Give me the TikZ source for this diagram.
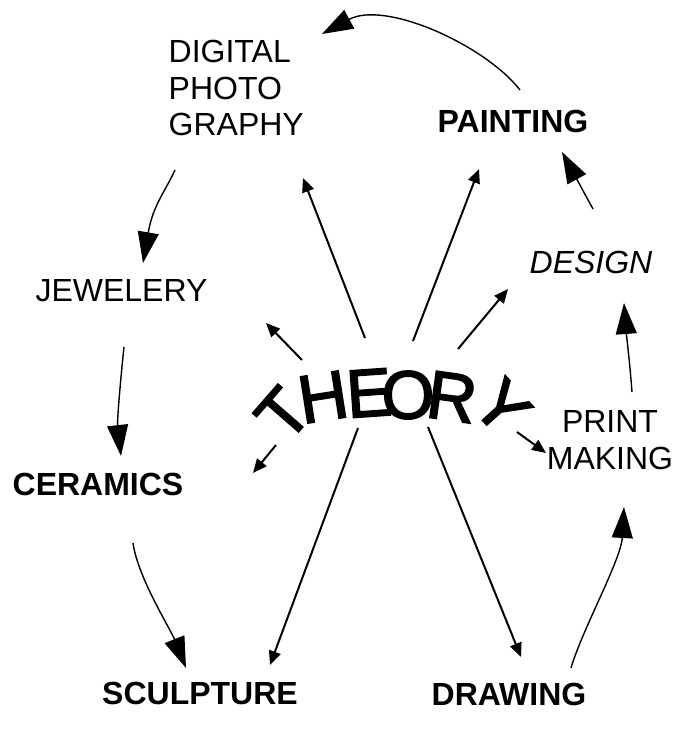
\documentclass[tikz,border=0pt]{standalone}
\usepackage{fontspec}
\setmainfont{Liberation Sans}
\newfontfamily\thfont[FakeBold=2.5]{Liberation Sans}
\usetikzlibrary{arrows.meta}
\begin{document}
\begin{tikzpicture}[x=1pt,y=-1pt,
  lbl/.style={inner sep=0pt, font=\fontsize{32}{36.5}\selectfont},
  blbl/.style={inner sep=0pt, font=\fontsize{32}{36.5}\selectfont\bfseries},
  ilbl/.style={inner sep=0pt, font=\fontsize{32}{36.5}\selectfont\itshape},
  ltr/.style={inner sep=0pt, font=\thfont\fontsize{68}{68}\selectfont},
  cyc/.style={line width=1.4pt, -{Triangle[length=31pt,width=21pt]}},
  ray/.style={line width=2pt, -{Triangle[length=14pt,width=12pt]}}]
\useasboundingbox (0,0) rectangle (679,729);
\fill[white] (0,0) rectangle (679,729);

% labels
\node[lbl, align=left, anchor=north west] (dig) at (168.5,40) {DIGITAL\\PHOTO\\GRAPHY};
\node[blbl, anchor=base] (pnt) at (513,132) {PAINTING};
\node[lbl, anchor=base] (jew) at (121.5,301) {JEWELERY};
\node[ilbl, anchor=base] (des) at (591,273) {DESIGN};
\node[lbl, align=center, anchor=north] (prm) at (610,410.5) {PRINT\\MAKING};
\node[blbl, anchor=base] (cer) at (98,495) {CERAMICS};
\node[blbl, anchor=base] (scu) at (200,704) {SCULPTURE};
\node[blbl, anchor=base] (drw) at (509,705) {DRAWING};

% arched THEORY
\node[ltr, rotate=49] (tT) at (283,414) {T};
\node[ltr, rotate=9] (tH) at (323,397) {H};
\node[ltr, rotate=4] (tE) at (369,393) {E};
\node[ltr] (tO) at (408,395) {O};
\node[ltr, rotate=-8] (tR) at (452,397) {R};
\node[ltr, rotate=-48] (tY) at (502,407) {Y};

% connector end points
\coordinate (a0) at (520,90);   \coordinate (a1) at (322,34);
\coordinate (b0) at (175,170);  \coordinate (b1) at (143,263);
\coordinate (c0) at (124,347);  \coordinate (c1) at (121,456);
\coordinate (d0) at (133,543);  \coordinate (d1) at (186,668);
\coordinate (e0) at (571,668);  \coordinate (e1) at (624,507);
\coordinate (f0) at (632,392);  \coordinate (f1) at (624,303);
\coordinate (g0) at (593,209);  \coordinate (g1) at (562,152);

\coordinate (r1s) at (365,338); \coordinate (r1e) at (303,178);
\coordinate (r2s) at (413,341); \coordinate (r2e) at (479,169);
\coordinate (r3s) at (302,360); \coordinate (r3e) at (266,323);
\coordinate (r4s) at (458,349); \coordinate (r4e) at (508,289);
\coordinate (r5s) at (276,445); \coordinate (r5e) at (253,473);
\coordinate (r6s) at (517,432); \coordinate (r6e) at (546,453);
\coordinate (r7s) at (358,428); \coordinate (r7e) at (270,665);
\coordinate (r8s) at (428,427); \coordinate (r8e) at (521,657);

% cycle arrows
\draw[cyc] (a0) .. controls (485,45) and (385,0) .. (a1);
\draw[cyc] (b0) .. controls (165,192) and (153,205) .. (b1);
\draw[cyc] (c0) .. controls (121,375) and (117,420) .. (c1);
\draw[cyc] (d0) .. controls (138,578) and (170,628) .. (d1);
\draw[cyc] (e0) .. controls (582,630) and (621,560) .. (e1);
\draw[cyc] (f0) .. controls (630,365) and (626,330) .. (f1);
\draw[cyc] (g0) -- (g1);

% rays from THEORY
\draw[ray] (r1s) -- (r1e);
\draw[ray] (r2s) -- (r2e);
\draw[ray] (r3s) -- (r3e);
\draw[ray] (r4s) -- (r4e);
\draw[ray] (r5s) -- (r5e);
\draw[ray] (r6s) -- (r6e);
\draw[ray] (r7s) -- (r7e);
\draw[ray] (r8s) -- (r8e);
\end{tikzpicture}
\end{document}
